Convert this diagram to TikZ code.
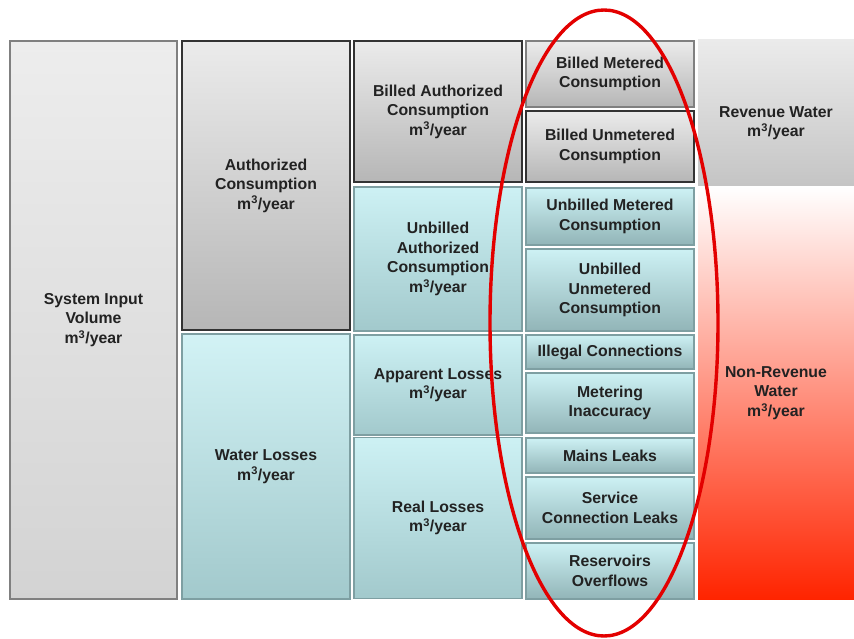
\documentclass[tikz,border=0pt]{standalone}
\usepackage{fontspec}
\setmainfont{Liberation Sans}
\usepackage{tikz}
\usetikzlibrary{positioning}
\definecolor{boxtext}{HTML}{222222}
\definecolor{greytop}{HTML}{EBEBEB}
\definecolor{greybot}{HTML}{B6B6B6}
\definecolor{aquatop}{HTML}{CDF1F4}
\definecolor{aquabot}{HTML}{A2C9CC}
\definecolor{aquaedge}{HTML}{7E9FA2}
\definecolor{nrwred}{HTML}{FF2400}
\definecolor{markred}{HTML}{E30000}
\newcommand{\cubicyear}{m\textsuperscript{3}/year}
\tikzset{
  cell/.style      = {rectangle, align=center, inner sep=2pt, text=boxtext,
                      font=\fontsize{15.8}{19.5}\selectfont\bfseries},
  greybox/.style   = {cell, top color=greytop, bottom color=greybot,
                      draw=black!80, line width=1.6pt},
  paleedge/.style  = {draw=black!50, line width=1.4pt},
  aquabox/.style   = {cell, top color=aquatop, bottom color=aquabot,
                      draw=aquaedge, line width=1.2pt},
  leafbox/.style   = {aquabox, bottom color=aquabot!90!black},
  nrwbox/.style    = {cell, top color=white, bottom color=nrwred},
  marker/.style    = {draw=markred, line width=3.4pt},
}

\begin{document}
\begin{tikzpicture}[x=1pt,y=-1pt]
  \useasboundingbox (0,0) rectangle (854,639);

  % ---- water input and first split ---------------------------------------
  \node[greybox, paleedge, top color=greytop!90, bottom color=greybot!60,
        minimum width=167, minimum height=558] (siv) at (93.5,320)
    {System Input\\Volume\\\cubicyear};
  \node[greybox, minimum width=168, minimum height=289] (authcons) at (266,185.5)
    {Authorized\\Consumption\\\cubicyear};
  \node[aquabox, top color=aquatop!90!white, minimum width=168, minimum height=265]
    (losses) at (266,466.5) {Water Losses\\\cubicyear};

  % ---- second split -------------------------------------------------------
  \node[greybox, minimum width=168, minimum height=141] (billedauth) at (438,111.5)
    {Billed Authorized\\Consumption\\\cubicyear};
  \node[aquabox, minimum width=168, minimum height=144] (unbilledauth) at (438,259)
    {Unbilled\\Authorized\\Consumption\\\cubicyear};
  \node[aquabox, minimum width=168, minimum height=100] (apparent) at (438,385)
    {Apparent Losses\\\cubicyear};
  \node[aquabox, minimum width=168, minimum height=161] (real) at (438,518)
    {Real Losses\\\cubicyear};

  % ---- components ---------------------------------------------------------
  \node[greybox, paleedge, minimum width=168, minimum height=66] (bmc) at (610,74)
    {Billed Metered\\Consumption};
  \node[greybox, minimum width=168, minimum height=71] (buc) at (610,146.5)
    {Billed Unmetered\\Consumption};
  \node[leafbox, minimum width=168, minimum height=57] (umc) at (610,216.5)
    {Unbilled Metered\\Consumption};
  \node[leafbox, minimum width=168, minimum height=82] (uuc) at (610,290)
    {Unbilled\\Unmetered\\Consumption};
  \node[leafbox, minimum width=168, minimum height=34] (illegal) at (610,352)
    {Illegal Connections};
  \node[leafbox, minimum width=168, minimum height=60] (meter) at (610,403)
    {Metering\\Inaccuracy};
  \node[leafbox, minimum width=168, minimum height=35] (mains) at (610,455.5)
    {Mains Leaks};
  \node[leafbox, minimum width=168, minimum height=62] (service) at (610,508)
    {Service\\Connection Leaks};
  \node[leafbox, minimum width=168, minimum height=56] (reservoir) at (610,571)
    {Reservoirs\\Overflows};

  % ---- revenue / non-revenue ---------------------------------------------
  \node[top color=greytop, bottom color=greybot!80,
        minimum width=156, minimum height=146] (revenue) at (776,113) {};
  \node[cell, yshift=-10pt] (revenuetext) at (revenue) {Revenue Water\\\cubicyear};
  \node[nrwbox, minimum width=156, minimum height=412] (nonrevenue) at (776,393)
    {Non-Revenue\\Water\\\cubicyear};

  % ---- highlight of the components ---------------------------------------
  \draw[marker] (604,323) ellipse [x radius=114pt, y radius=313pt];
\end{tikzpicture}
\end{document}
